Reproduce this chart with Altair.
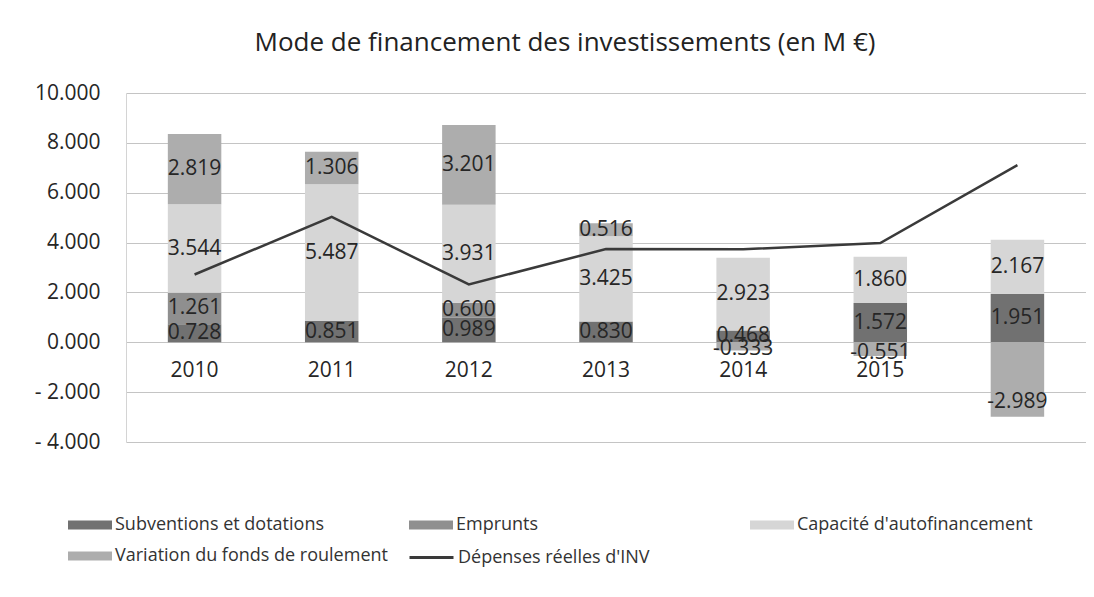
import altair as alt
import pandas as pd

years = ["2010", "2011", "2012", "2013", "2014", "2015", "2016"]
series = [
    "Subventions et dotations",
    "Emprunts",
    "Capacité d'autofinancement",
    "Variation du fonds de roulement",
]
subventions = [0.728, 0.851, 0.989, 0.830, 0.468, 1.572, 1.951]
emprunts = [1.261, 0.0, 0.600, 0.0, 0.0, 0.0, 0.0]
caf = [3.544, 5.487, 3.931, 3.425, 2.923, 1.860, 2.167]
variation = [2.819, 1.306, 3.201, 0.516, -0.333, -0.551, -2.989]
line_name = "Dépenses réelles d'INV"
depenses = [2.72, 5.03, 2.32, 3.74, 3.73, 3.98, 7.11]
y_ticks = [-4, -2, 0, 2, 4, 6, 8, 10]
colors = ["#717171", "#8f8f8f", "#d6d6d6", "#adadad"]
line_color = "#3a3a3a"
FONT = "Open Sans"

rows = []
for i, yr in enumerate(years):
    pos, neg = 0.0, 0.0
    for s, vals in zip(series, [subventions, emprunts, caf, variation]):
        v = vals[i]
        if v == 0:
            continue
        if v > 0:
            y0, y1 = pos, pos + v
            pos = y1
            mid = (y0 + y1) / 2
        else:
            y0, y1 = neg, neg + v
            neg = y1
            mid = y0 + 0.8 * v
        rows.append(dict(annee=yr, serie=s, valeur=v, y0=y0, y1=y1, mid=mid,
                         label=f"{v:.3f}"))
bars_df = pd.DataFrame(rows)
line_df = pd.DataFrame({"annee": years, "serie": line_name, "valeur": depenses})

xscale = alt.Scale(domain=years, paddingInner=0.61, paddingOuter=0.305)
yscale = alt.Scale(domain=[-4, 10], nice=False, zero=False)

xaxis = alt.Axis(title=None, offset=-99.7, ticks=False, domain=False, labelAngle=0,
                 labelFontSize=21, labelFont=FONT, labelPadding=17,
                 labelColor="#262626", grid=False)
yaxis = alt.Axis(title=None, values=y_ticks, ticks=False, domain=True,
                 domainColor="#d4d4d4", labelFontSize=21, labelFont=FONT,
                 labelColor="#262626", labelPadding=26, gridColor="#c4c4c4",
                 gridWidth=1,
                 labelExpr="datum.value < 0 ? '- ' + format(-datum.value, '.3f') : format(datum.value, '.3f')")

X = alt.X("annee:N", scale=xscale, sort=years, axis=xaxis)

bars = alt.Chart(bars_df).mark_bar().encode(
    x=X,
    y=alt.Y("y0:Q", scale=yscale, axis=yaxis),
    y2="y1:Q",
    fill=alt.Fill(
        "serie:N",
        scale=alt.Scale(domain=series, range=colors),
        sort=series,
        legend=alt.Legend(
            title=None, orient="none", direction="horizontal",
            legendX=-58, legendY=410, columns=3, values=series,
            gridAlign="all", columnPadding=21, rowPadding=-10,
            symbolType="M-1,-0.2H1V0.2H-1Z", symbolSize=1936,
            symbolStrokeWidth=0, labelFontSize=18, labelFont=FONT,
            labelColor="#333333", labelLimit=500, labelOffset=3,
        ),
    ),
)

line = alt.Chart(line_df).mark_line(strokeWidth=2.5).encode(
    x=X,
    y=alt.Y("valeur:Q", scale=yscale, axis=yaxis),
    stroke=alt.Stroke(
        "serie:N",
        scale=alt.Scale(domain=[line_name], range=[line_color]),
        legend=alt.Legend(
            title=None, orient="none", legendX=282, legendY=441,
            symbolType="stroke", symbolSize=1936, symbolStrokeWidth=3,
            labelFontSize=18, labelFont=FONT, labelColor="#333333",
            labelLimit=500, labelOffset=3,
        ),
    ),
)

text = alt.Chart(bars_df).mark_text(fontSize=21, font=FONT, color="#262626").encode(
    x=X,
    y=alt.Y("mid:Q", scale=yscale, axis=yaxis),
    text="label:N",
)

chart = (
    alt.layer(bars, line, text)
    .properties(
        width=960,
        height=349,
        padding={"left": 118, "top": 85, "right": 0, "bottom": 140},
        autosize=alt.AutoSizeParams(type="none"),
        title=alt.TitleParams(
            "Mode de financement des investissements (en M €)",
            fontSize=26, font=FONT, fontWeight="normal", color="#222222",
            offset=26, dx=-41, anchor="middle",
        ),
        background="white",
    )
    .configure_view(stroke=None)
)

chart.save("out.html", embed_options={"renderer": "svg", "actions": False})
